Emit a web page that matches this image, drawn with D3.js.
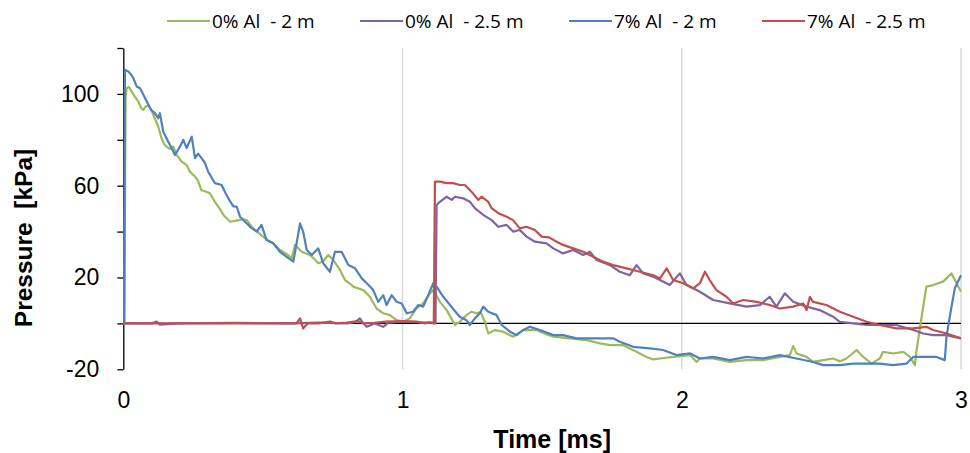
<!DOCTYPE html>
<html>
<head>
<meta charset="utf-8">
<script src="https://cdn.jsdelivr.net/npm/d3@7"></script>
<style>
  body { margin: 0; background: #fff; }
  svg { display: block; }
</style>
</head>
<body>
<svg width="970" height="453"></svg>
<script>
// Series data: [time (ms), pressure (kPa)]
const green = [[0,0],[0.004,0],[0.008,98],[0.012,102.5],[0.02,103],[0.03,101],[0.04,99],[0.054,96.7],[0.063,94],[0.072,93],[0.08,94.5],[0.09,95],[0.10,93],[0.113,89.4],[0.125,85.8],[0.137,80.7],[0.147,78],[0.155,77],[0.168,76],[0.179,77],[0.191,73.4],[0.209,70.5],[0.227,69],[0.239,66],[0.257,64],[0.268,62],[0.28,58],[0.295,57.5],[0.31,56.7],[0.328,53],[0.345,50],[0.36,47],[0.383,44.3],[0.405,44.8],[0.43,45.4],[0.442,45],[0.465,41.4],[0.48,40],[0.50,37.8],[0.52,36],[0.537,34.9],[0.561,32],[0.59,29.8],[0.603,28.4],[0.615,34.2],[0.625,33],[0.639,31.2],[0.668,29.8],[0.685,28],[0.698,26.2],[0.715,27],[0.734,29.8],[0.752,27.6],[0.776,23.3],[0.794,18.9],[0.81,17.5],[0.824,16],[0.86,14.5],[0.883,11.6],[0.907,6.5],[0.931,4.4],[0.955,3.6],[0.979,1.4],[1.003,0.7],[1.026,2.2],[1.05,6.5],[1.074,8.7],[1.098,13.1],[1.11,14.5],[1.134,9.4],[1.158,5.8],[1.188,-0.7],[1.205,0.7],[1.229,3.6],[1.247,5.1],[1.265,4.4],[1.28,4.8],[1.295,0.7],[1.307,-4.4],[1.331,-2.9],[1.36,-3.6],[1.396,-5.8],[1.432,-2.9],[1.48,-2.9],[1.51,-4.5],[1.54,-5.8],[1.6,-6.5],[1.659,-7.3],[1.707,-8.7],[1.743,-9.5],[1.79,-9.5],[1.838,-12.4],[1.874,-14.6],[1.898,-15.7],[1.922,-15.3],[1.969,-14.6],[2.03,-13.8],[2.053,-16.8],[2.065,-15.3],[2.112,-15.3],[2.172,-16.8],[2.232,-16],[2.291,-16],[2.351,-14.6],[2.387,-13.8],[2.399,-9.9],[2.411,-13.1],[2.447,-14.6],[2.47,-16.8],[2.506,-16],[2.542,-15.3],[2.566,-16.5],[2.59,-15.3],[2.626,-11.6],[2.65,-14.6],[2.68,-17.5],[2.709,-15.3],[2.721,-12.4],[2.757,-13.1],[2.793,-12.4],[2.817,-14.6],[2.835,-18.2],[2.841,-11.6],[2.859,2.9],[2.876,16],[2.9,16.7],[2.936,18.2],[2.966,21.8],[2.984,17.5],[3.0,13.8]];

const purple = [[0,0],[0.1,0],[0.12,0.8],[0.13,-0.5],[0.2,0],[0.4,0.2],[0.6,0],[0.7,0.3],[0.8,0],[0.83,0.5],[0.847,2.2],[0.86,0],[0.872,-1.5],[0.9,0],[0.931,-1.5],[0.95,0.3],[1.0,0.8],[1.05,0.5],[1.1,0.3],[1.118,0],[1.122,51.6],[1.134,53],[1.158,55.2],[1.176,53.8],[1.188,55.2],[1.217,54.5],[1.241,53],[1.259,50.2],[1.289,47.3],[1.319,45],[1.343,42.1],[1.373,42.9],[1.396,40],[1.42,40.7],[1.444,37.8],[1.474,35.6],[1.516,34.9],[1.54,32.7],[1.575,30.5],[1.611,32],[1.647,29.8],[1.671,31.2],[1.695,27.6],[1.743,25.4],[1.778,22.5],[1.814,21],[1.838,25.4],[1.862,21.8],[1.898,20.3],[1.922,18.9],[1.957,16.7],[1.993,21.8],[2.017,16.7],[2.065,13.8],[2.112,10.2],[2.172,8.7],[2.232,7.3],[2.28,8],[2.315,11.6],[2.339,7.3],[2.369,13.1],[2.399,9.4],[2.447,7.3],[2.494,5.8],[2.542,2.9],[2.566,0.7],[2.614,0],[2.662,-0.7],[2.709,-0.7],[2.769,-0.7],[2.829,-2.9],[2.865,-4.4],[2.9,-5.1],[2.948,-5.1],[3.0,-6.5]];

const blue = [[0,0],[0.003,0],[0.006,110.5],[0.018,109.8],[0.027,108.5],[0.036,106.9],[0.048,103.2],[0.06,102.5],[0.072,99.6],[0.084,96.7],[0.10,93],[0.113,91.6],[0.125,89.4],[0.131,91.6],[0.143,83.6],[0.161,79.2],[0.175,76],[0.185,73.4],[0.203,77],[0.215,80],[0.227,76.4],[0.245,81.4],[0.257,72],[0.268,74],[0.28,72],[0.292,70],[0.304,66.1],[0.328,61.1],[0.352,60.3],[0.365,57],[0.376,54.5],[0.394,51],[0.406,50.9],[0.418,46.5],[0.436,44.3],[0.454,42.1],[0.478,40],[0.495,42.9],[0.513,36.3],[0.537,34.9],[0.561,31.2],[0.585,29],[0.609,26.9],[0.633,43.6],[0.644,40],[0.657,32],[0.675,29.8],[0.698,32.7],[0.716,26.2],[0.74,22.5],[0.758,31.2],[0.782,31.2],[0.806,25.4],[0.83,24],[0.854,19.6],[0.872,17.5],[0.895,14.5],[0.913,9.4],[0.931,12.3],[0.943,8],[0.961,12.3],[0.979,9.4],[0.997,8.7],[1.015,4.4],[1.038,5.1],[1.056,8],[1.074,7.3],[1.092,12.3],[1.11,17.5],[1.122,16],[1.146,11.6],[1.17,8],[1.194,4.4],[1.205,2.9],[1.229,1.4],[1.241,-0.7],[1.259,2.2],[1.277,4.4],[1.289,7.3],[1.307,5.1],[1.337,3.6],[1.355,-0.7],[1.385,-3.6],[1.408,-5.1],[1.432,-2.9],[1.456,-1.5],[1.492,-2.9],[1.54,-5.1],[1.575,-5.1],[1.623,-6.5],[1.683,-6.5],[1.754,-6.5],[1.778,-8],[1.826,-10.2],[1.886,-10.9],[1.933,-11.6],[1.981,-13.8],[2.03,-13.1],[2.065,-15.3],[2.112,-14.6],[2.172,-16],[2.232,-14.6],[2.291,-15.3],[2.351,-13.8],[2.411,-15.3],[2.47,-16.8],[2.506,-18.2],[2.566,-18.2],[2.614,-17.5],[2.662,-17.5],[2.709,-17.5],[2.757,-18.2],[2.805,-17.5],[2.829,-14.6],[2.876,-14.6],[2.912,-14.6],[2.942,-16],[2.948,-5.8],[2.966,7.3],[2.978,15.3],[3.0,21]];

const red = [[0,0],[0.3,0],[0.5,0],[0.62,0],[0.633,2.2],[0.644,-2.2],[0.66,0],[0.7,0],[0.74,0.8],[0.76,0],[0.8,0.3],[0.84,1],[0.86,0],[0.9,0.2],[0.94,0.8],[1.0,1],[1.05,0.8],[1.08,0],[1.1,0.5],[1.112,0],[1.116,61.8],[1.134,61.8],[1.158,61.1],[1.181,61.1],[1.205,60.3],[1.223,60.3],[1.247,57.4],[1.271,53.8],[1.283,55.2],[1.307,53],[1.319,50.2],[1.343,48],[1.373,46.5],[1.396,45],[1.42,41.4],[1.444,42.1],[1.474,40.7],[1.498,37.8],[1.525,37.5],[1.552,35.6],[1.575,34.2],[1.611,32.7],[1.647,31.2],[1.683,29],[1.718,26.9],[1.754,25.4],[1.802,24],[1.85,22.5],[1.898,21],[1.922,19.6],[1.946,24],[1.969,18.9],[2.005,17.5],[2.041,15.3],[2.065,17.5],[2.083,22.5],[2.1,18.9],[2.124,14.5],[2.16,11.6],[2.184,8.7],[2.22,10.2],[2.268,9.4],[2.315,8],[2.351,6.5],[2.399,7.3],[2.435,8.7],[2.447,5.8],[2.459,11.6],[2.47,9.4],[2.518,8],[2.566,5.1],[2.614,2.9],[2.662,0.7],[2.709,-0.7],[2.769,-2.2],[2.829,-2.2],[2.876,-1.5],[2.9,-2.9],[2.948,-4.4],[3.0,-6.5]];

const seriesNames = ["0% Al  - 2 m", "0% Al  - 2.5 m", "7% Al  - 2 m", "7% Al  - 2.5 m"];
const seriesColors = ["#9bbb59", "#8064a2", "#4f81bd", "#c0504d"];
const seriesData = [green, purple, blue, red];

const xTicks = [0, 1, 2, 3];
const yTicks = [-20, 0, 20, 40, 60, 80, 100, 120];
const yLabels = [-20, 20, 60, 100];

const svg = d3.select("svg");
const font = "'Liberation Sans', Arial, sans-serif";

const x = d3.scaleLinear().domain([0, 3]).range([123.3, 961]);
const y = d3.scaleLinear().domain([-20, 120]).range([369.3, 48]);

// vertical gridlines
svg.append("g")
  .selectAll("line")
  .data(xTicks.slice(1))
  .enter().append("line")
  .attr("x1", d => x(d)).attr("x2", d => x(d))
  .attr("y1", y(120)).attr("y2", y(-20))
  .attr("stroke", "#d9d9d9")
  .attr("stroke-width", 1.5);

// zero line
svg.append("line")
  .attr("x1", x(0)).attr("x2", x(3))
  .attr("y1", y(0)).attr("y2", y(0))
  .attr("stroke", "#000")
  .attr("stroke-width", 1.3);

// y axis
const yAxis = svg.append("g")
  .attr("transform", `translate(${x(0)},0)`)
  .call(d3.axisLeft(y)
    .tickValues(yTicks)
    .tickSize(6)
    .tickPadding(18)
    .tickSizeOuter(0)
    .tickFormat(d => yLabels.includes(d) ? d : ""));
yAxis.select(".domain").attr("stroke", "#000").attr("stroke-width", 1.3);
yAxis.selectAll(".tick line").attr("stroke", "#000").attr("stroke-width", 1.3);
yAxis.selectAll("text").attr("font-family", font).attr("font-size", 23).attr("fill", "#000");

// x axis labels (placed at the bottom of the plot)
const xAxis = svg.append("g")
  .attr("transform", `translate(0,${y(-20)})`)
  .call(d3.axisBottom(x)
    .tickValues(xTicks)
    .tickSize(0)
    .tickPadding(22)
    .tickFormat(d3.format("d")));
xAxis.select(".domain").remove();
xAxis.selectAll("text").attr("font-family", font).attr("font-size", 23).attr("fill", "#000");

// series lines
const line = d3.line()
  .x(d => x(d[0]))
  .y(d => y(d[1]));

svg.append("g")
  .selectAll("path")
  .data(seriesData)
  .enter().append("path")
  .attr("d", line)
  .attr("fill", "none")
  .attr("stroke", (d, i) => seriesColors[i])
  .attr("stroke-width", 2.2)
  .attr("stroke-linejoin", "round");

// axis titles
svg.append("text")
  .attr("x", (x(0) + x(3)) / 2 + 10)
  .attr("y", 448)
  .attr("text-anchor", "middle")
  .attr("font-family", font)
  .attr("font-weight", "bold")
  .attr("font-size", 25)
  .text("Time [ms]");

svg.append("text")
  .attr("transform", "translate(32,238) rotate(-90)")
  .attr("text-anchor", "middle")
  .attr("font-family", font)
  .attr("font-weight", "bold")
  .attr("font-size", 24.5)
  .style("white-space", "pre")
  .text("Pressure  [kPa]");

// legend
const legendX = [167, 360, 569, 762];
const legend = svg.append("g")
  .selectAll("g")
  .data(seriesNames)
  .enter().append("g")
  .attr("transform", (d, i) => `translate(${legendX[i]},21)`);

legend.append("line")
  .attr("x1", 0).attr("x2", 43)
  .attr("stroke", (d, i) => seriesColors[i])
  .attr("stroke-width", 2.2);

legend.append("text")
  .attr("x", 45)
  .attr("y", 7)
  .attr("font-family", "'Open Sans', sans-serif")
  .attr("font-size", 19)
  .style("white-space", "pre")
  .text(d => d);
</script>
</body>
</html>
